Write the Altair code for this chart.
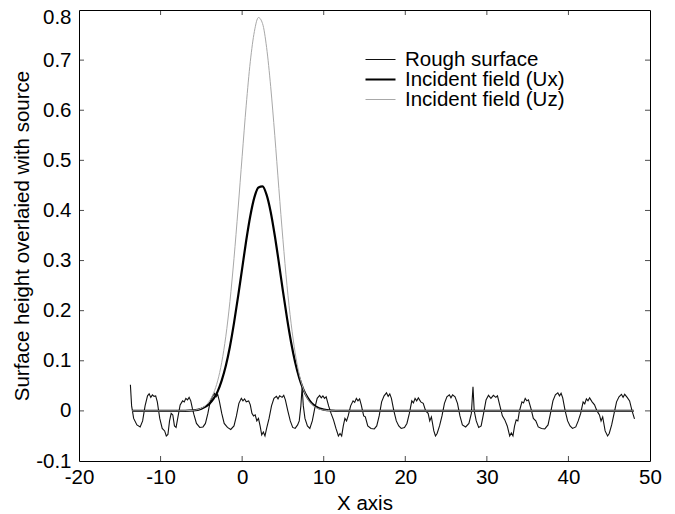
import altair as alt
import pandas as pd

R = "Rough surface"
UX = "Incident field (Ux)"
UZ = "Incident field (Uz)"

rough_x = [-13.7, -13.55, -13.3, -12.9, -12.5, -12.2, -11.9, -11.6, -11.4, -11.2, -11.0, -10.8, -10.6, -10.4,
           -10.1, -9.8, -9.5, -9.3, -9.1, -8.9, -8.7, -8.5, -8.3, -8.1, -7.9, -7.6, -7.3, -7.1, -6.9, -6.7,
           -6.5, -6.3, -6.1, -5.9, -5.6, -5.2, -4.8, -4.5, -4.2, -3.9, -3.6, -3.4, -3.2, -3.0, -2.8, -2.5,
           -2.2, -1.8, -1.4, -1.0, -0.7, -0.4, -0.1, 0.1, 0.3, 0.5, 0.8, 1.0, 1.2, 1.4, 1.6, 1.8, 2.0, 2.2,
           2.4, 2.6, 2.8, 3.0, 3.3, 3.6, 3.9, 4.2, 4.4, 4.6, 4.9, 5.1, 5.3, 5.6, 5.9, 6.2, 6.5, 6.8, 7.0,
           7.2, 7.35, 7.5, 7.7, 8.0, 8.3, 8.6, 8.9, 9.2, 9.5, 9.7, 9.9, 10.1, 10.3, 10.6, 10.9, 11.2, 11.5,
           11.8, 12.0, 12.2, 12.4, 12.6, 12.8, 13.0, 13.3, 13.6, 13.8, 14.0, 14.2, 14.4, 14.6, 14.9, 15.1,
           15.4, 15.8, 16.2, 16.5, 16.8, 17.1, 17.4, 17.7, 17.9, 18.1, 18.3, 18.6, 18.9, 19.2, 19.5, 19.9,
           20.2, 20.5, 20.8, 21.0, 21.2, 21.4, 21.6, 21.9, 22.2, 22.5, 22.8, 23.0, 23.2, 23.5, 23.7, 23.9,
           24.2, 24.5, 24.8, 25.1, 25.4, 25.6, 25.8, 26.1, 26.4, 26.7, 27.0, 27.4, 27.8, 28.1, 28.3, 28.45,
           28.7, 29.0, 29.3, 29.6, 29.9, 30.2, 30.5, 30.8, 31.1, 31.3, 31.6, 31.9, 32.2, 32.5, 32.8, 33.0,
           33.2, 33.4, 33.6, 33.8, 34.0, 34.3, 34.5, 34.7, 34.9, 35.1, 35.4, 35.7, 36.0, 36.3, 36.7, 37.1,
           37.5, 37.8, 38.1, 38.4, 38.7, 38.9, 39.1, 39.3, 39.6, 39.9, 40.2, 40.5, 40.9, 41.2, 41.5, 41.8,
           42.0, 42.2, 42.4, 42.6, 42.9, 43.2, 43.5, 43.8, 44.0, 44.2, 44.5, 44.8, 45.0, 45.3, 45.6, 45.9,
           46.2, 46.5, 46.7, 46.9, 47.2, 47.5, 47.8, 48.1]
rough_y = [0.052, 0.01, -0.015, -0.028, -0.032, -0.02, 0.01, 0.03, 0.034, 0.027, 0.032, 0.029, 0.03, 0.018,
           -0.015, -0.035, -0.04, -0.05, -0.047, -0.02, -0.005, -0.008, -0.03, -0.033, -0.015, 0.012, 0.02,
           0.018, 0.025, 0.022, 0.027, 0.02, 0.005, -0.008, -0.025, -0.033, -0.032, -0.025, -0.005, 0.02,
           0.03, 0.035, 0.028, 0.033, 0.02, -0.005, -0.025, -0.033, -0.037, -0.03, -0.01, 0.015, 0.025,
           0.02, 0.024, 0.018, 0.02, 0.012, -0.005, -0.01, -0.008, -0.02, -0.015, -0.03, -0.048, -0.042,
           -0.05, -0.035, -0.015, 0.01, 0.025, 0.029, 0.024, 0.03, 0.027, 0.031, 0.022, 0.0, -0.02, -0.033,
           -0.035, -0.028, -0.02, 0.01, 0.047, 0.01, -0.015, -0.03, -0.035, -0.02, 0.005, 0.025, 0.031,
           0.026, 0.03, 0.025, 0.028, 0.01, -0.005, -0.018, -0.035, -0.05, -0.045, -0.05, -0.03, -0.015,
           -0.02, -0.01, 0.01, 0.02, 0.017, 0.025, 0.02, 0.024, 0.012, -0.01, -0.012, -0.03, -0.035, -0.036,
           -0.03, -0.01, 0.018, 0.03, 0.036, 0.029, 0.034, 0.025, 0.0, -0.02, -0.03, -0.035, -0.033, -0.025,
           -0.005, 0.02, 0.016, 0.025, 0.02, 0.026, 0.018, 0.015, 0.0, -0.005, -0.02, -0.012, -0.04, -0.05,
           -0.045, -0.03, -0.01, 0.015, 0.028, 0.032, 0.026, 0.032, 0.028, 0.015, -0.01, -0.028, -0.032,
           -0.025, -0.005, 0.048, 0.0, -0.02, -0.033, -0.03, -0.005, 0.022, 0.031, 0.025, 0.031, 0.027, 0.03,
           0.01, -0.01, -0.018, -0.03, -0.05, -0.044, -0.05, -0.03, -0.018, -0.02, 0.0, 0.018, 0.016, 0.025,
           0.02, 0.022, 0.005, -0.015, -0.02, -0.032, -0.035, -0.036, -0.028, -0.005, 0.02, 0.032, 0.036,
           0.03, 0.035, 0.026, 0.0, -0.02, -0.03, -0.035, -0.032, -0.02, -0.005, 0.018, 0.014, 0.024, 0.02,
           0.026, 0.018, 0.012, 0.0, -0.008, -0.02, -0.012, -0.04, -0.05, -0.045, -0.028, -0.005, 0.018,
           0.028, 0.033, 0.027, 0.033, 0.027, 0.02, 0.0, -0.016]

field_x = [-13.5, -8, -6, -5, -4, -3.5, -3, -2.5, -2, -1.5, -1, -0.5, 0, 0.5, 1, 1.5, 2, 2.5, 3, 3.5,
           4, 4.5, 5, 5.5, 6, 6.5, 7, 7.5, 8, 8.5, 9, 10, 11, 12, 48]
ux_y = [0, 0, 0.0011, 0.0044, 0.0144, 0.0243, 0.039, 0.061, 0.090, 0.128, 0.175, 0.228, 0.284, 0.340,
        0.389, 0.426, 0.446, 0.448, 0.431, 0.397, 0.350, 0.296, 0.239, 0.185, 0.137, 0.097, 0.066, 0.043,
        0.027, 0.016, 0.0091, 0.0026, 0.0006, 0, 0]
uz_y = [0, 0, 0.0012, 0.0054, 0.0199, 0.0355, 0.060, 0.097, 0.149, 0.218, 0.304, 0.403, 0.508, 0.610,
        0.697, 0.757, 0.785, 0.773, 0.725, 0.647, 0.550, 0.444, 0.342, 0.250, 0.175, 0.116, 0.073, 0.044,
        0.025, 0.0137, 0.0071, 0.0017, 0.0003, 0, 0]

x_ticks = [-10, 0, 10, 20, 30, 40]
y_ticks = [0, 0.1, 0.2, 0.3, 0.4, 0.5, 0.6, 0.7]
x_labels = [-20, -10, 0, 10, 20, 30, 40, 50]
y_labels = [-0.1, 0, 0.1, 0.2, 0.3, 0.4, 0.5, 0.6, 0.7, 0.8]

W, H = 571, 451
FONT = "Liberation Sans"
FS = 20.5

rough_df = pd.DataFrame({"x": rough_x, "y": rough_y, "series": R})
field_df = pd.concat([
    pd.DataFrame({"x": field_x, "y": ux_y, "series": UX}),
    pd.DataFrame({"x": field_x, "y": uz_y, "series": UZ}),
])

xscale = alt.Scale(domain=[-20, 50], nice=False, zero=False)
yscale = alt.Scale(domain=[-0.1, 0.8], nice=False, zero=False)
names = [R, UX, UZ]
leg = dict(title=None, orient="none", legendX=285, legendY=41, symbolType="stroke",
           symbolSize=900, clipHeight=17, rowPadding=-1)
color = alt.Color("series:N", scale=alt.Scale(domain=names, range=["#111111", "#000000", "#a8a8a8"]),
                  legend=alt.Legend(**leg))
sw = alt.StrokeWidth("series:N",
                     scale=alt.Scale(type="ordinal", domain=names, range=[1.1, 2.2, 1.0]),
                     legend=alt.Legend(**leg))

xaxis = alt.Axis(values=x_labels, title="X axis", labelPadding=6, titlePadding=6)
yaxis = alt.Axis(values=y_labels, format=".1~f", title="Surface height overlaied with source",
                 labelPadding=8, titlePadding=3,
                 labelOffset={"condition": {"test": "datum.value >= 0.79", "value": 7}, "value": 0})

fields = alt.Chart(field_df).mark_line(interpolate="monotone").encode(
    x=alt.X("x:Q", scale=xscale, axis=xaxis),
    y=alt.Y("y:Q", scale=yscale, axis=yaxis),
    color=color, strokeWidth=sw, detail="series:N",
)
rough = alt.Chart(rough_df).mark_line().encode(
    x=alt.X("x:Q", scale=xscale, axis=xaxis), y=alt.Y("y:Q", scale=yscale, axis=yaxis),
    color=color, strokeWidth=sw,
)

xt = pd.DataFrame({"v": x_ticks})
yt = pd.DataFrame({"v": y_ticks})
tb = alt.Chart(xt).mark_tick(color="#000", size=5, thickness=1, orient="vertical").encode(
    x=alt.X("v:Q", scale=xscale, axis=xaxis), y=alt.value(H - 2.5))
tt = alt.Chart(xt).mark_tick(color="#000", size=5, thickness=1, orient="vertical").encode(
    x=alt.X("v:Q", scale=xscale, axis=xaxis), y=alt.value(2.5))
tl = alt.Chart(yt).mark_tick(color="#000", size=5, thickness=1, orient="horizontal").encode(
    y=alt.Y("v:Q", scale=yscale, axis=yaxis), x=alt.value(2.5))
tr = alt.Chart(yt).mark_tick(color="#000", size=5, thickness=1, orient="horizontal").encode(
    y=alt.Y("v:Q", scale=yscale, axis=yaxis), x=alt.value(W - 2.5))

chart = alt.layer(rough, fields, tb, tt, tl, tr).properties(
    width=W, height=H, autosize="none",
    padding={"left": 79, "top": 10, "right": 25, "bottom": 53},
    background="white",
).configure_view(
    stroke="#000", strokeWidth=1
).configure_axis(
    grid=False, ticks=False, domain=False, labelFlush=False,
    labelFont=FONT, labelFontSize=FS, labelColor="#000",
    labelExpr="replace(datum.label, '\u2212', '-')",
    titleFont=FONT, titleFontSize=FS, titleFontWeight="normal", titleColor="#000",
).configure_legend(
    labelFont=FONT, labelFontSize=FS, labelColor="#000", labelOffset=8, labelLimit=400,
    padding=0,
)

chart.save("out.html", embed_options={"renderer": "svg", "actions": False})
